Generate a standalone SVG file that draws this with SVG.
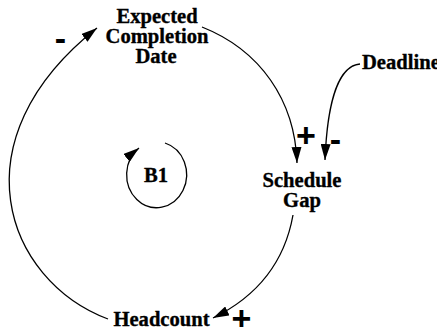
<svg xmlns="http://www.w3.org/2000/svg" width="437" height="332" viewBox="0 0 437 332">
<style>
.lbl{font-family:"Liberation Serif","Times New Roman",serif;font-weight:bold;font-size:20.6px;fill:#000;stroke:#000;stroke-width:0.35;text-anchor:middle}
.sign{font-family:"Liberation Sans",Arial,sans-serif;font-weight:bold;font-size:34px;fill:#000;text-anchor:middle}
.link{fill:none;stroke:#000;stroke-width:1.3}
</style>
<defs>
<marker id="ah" viewBox="0 0 16 10" refX="16" refY="5" markerWidth="16" markerHeight="10" orient="auto" markerUnits="userSpaceOnUse">
<path d="M0,0 L16,5 L0,10 z" fill="#000"/>
</marker>
</defs>
<rect width="437" height="332" fill="#fff"/>
<g id="connectors">
<path class="link" d="M202,27 C260,50 295,100 297,163" marker-end="url(#ah)"/>
<path class="link" d="M360,64 C336,66 327,110 325,160" marker-end="url(#ah)"/>
<path class="link" d="M293,215 C285,260 260,295 213,318" marker-end="url(#ah)"/>
<path class="link" d="M108,319 C5,280 -45,140 97,28" marker-end="url(#ah)"/>
<text class="sign" x="60.5" y="50">-</text>
<text class="sign" x="306" y="147">+</text>
<text class="sign" x="335.5" y="151">-</text>
<text class="sign" x="241.5" y="330">+</text>
</g>
<g id="expected-completion-date">
<text class="lbl" x="157" y="23">Expected</text>
<text class="lbl" x="157" y="43">Completion</text>
<text class="lbl" x="156" y="63">Date</text>
</g>
<g id="deadline">
<text class="lbl" x="362" y="69" style="text-anchor:start">Deadline</text>
</g>
<g id="schedule-gap">
<text class="lbl" x="302" y="187">Schedule</text>
<text class="lbl" x="302" y="207">Gap</text>
</g>
<g id="headcount">
<text class="lbl" x="161.5" y="326">Headcount</text>
</g>
<g id="loop-b1">
<path class="link" d="M165,143 A30,33 0 1 1 139,148" marker-end="url(#ah)"/>
<text class="lbl" x="156" y="182">B1</text>
</g>
</svg>
